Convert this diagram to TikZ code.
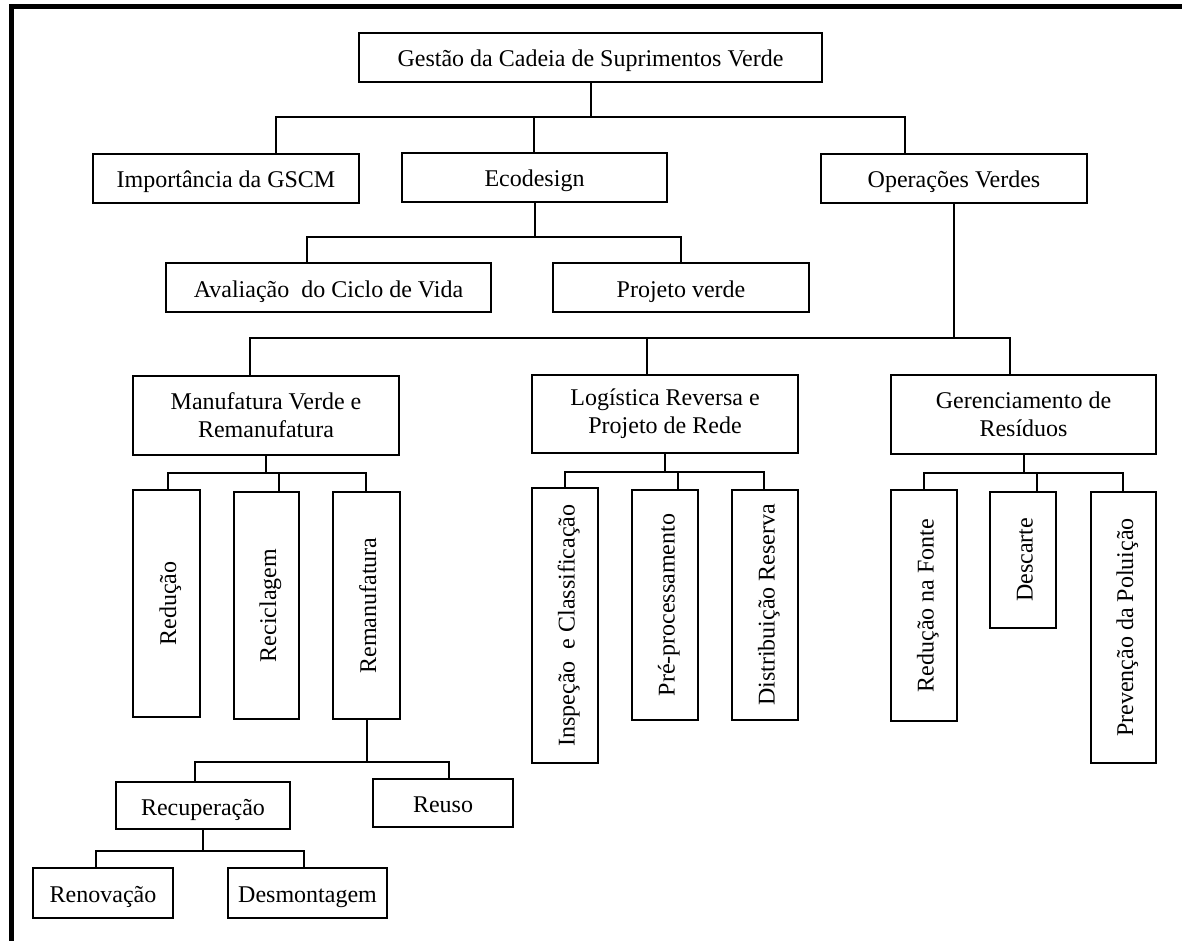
\documentclass[tikz,border=0pt]{standalone}
\usepackage{fontspec}
\usepackage{graphicx}
\setmainfont{Liberation Serif}
% upright text turned to read bottom-to-top inside a tall box
\newcommand\vtext[1]{\rotatebox{90}{\smash{#1}\rule{0pt}{19pt}}}
\begin{document}
\begin{tikzpicture}[x=1pt,y=-1pt,
  box/.style={draw,line width=2pt,inner sep=0pt,align=center,
    font=\fontsize{24}{28}\selectfont},
  one/.style={box,text height=19pt,text depth=0pt},
  link/.style={line width=2pt,line join=miter}]
\useasboundingbox (0,0) rectangle (1182,941);
% frame
\draw[line width=5pt] (11.5,941) -- (11.5,6.5) -- (1182,6.5);

% level 0/1
\node[one,minimum width=463,minimum height=49] (root) at (590.5,57.5) {Gestão da Cadeia de Suprimentos Verde};
\node[one,minimum width=266,minimum height=49] (imp) at (226,178.5) {Importância da GSCM};
\node[one,minimum width=265,minimum height=49] (eco) at (534.5,177.5) {Ecodesign};
\node[one,minimum width=266,minimum height=49] (ops) at (954,178.5) {Operações Verdes};
% ecodesign
\node[one,minimum width=325,minimum height=49] (ava) at (328.5,287.5) {Avaliação~ do Ciclo de Vida};
\node[one,minimum width=256,minimum height=49] (pv) at (681,287.5) {Projeto verde};
% green operations
\node[box,minimum width=266,minimum height=79] (man) at (266,415.5) {Manufatura Verde e\\Remanufatura};
\node[box,minimum width=266,minimum height=78] (log) at (665,414) {Logística Reversa e\\Projeto de Rede};
\node[box,minimum width=265,minimum height=79] (ger) at (1023.5,414.5) {Gerenciamento de\\Resíduos};
% manufacturing
\node[box,minimum height=227,minimum width=67] (red) at (166.5,603.5) {\vtext{Redução}};
\node[box,minimum height=227,minimum width=65] (rec) at (266.5,605.5) {\vtext{Reciclagem}};
\node[box,minimum height=227,minimum width=67] (rem) at (366.5,605.5) {\vtext{Remanufatura}};
% reverse logistics
\node[box,minimum height=275,minimum width=66] (insp) at (565,625.5) {\vtext{Inspeção~ e Classificação}};
\node[box,minimum height=230,minimum width=66] (pre) at (665,605) {\vtext{Pré-processamento}};
\node[box,minimum height=230,minimum width=66] (dist) at (765,605) {\vtext{Distribuição Reserva}};
% waste management
\node[box,minimum height=231,minimum width=66] (rnf) at (924,605.5) {\vtext{Redução na Fonte}};
\node[box,minimum height=136,minimum width=66] (desc) at (1023,560) {\vtext{Descarte}};
\node[box,minimum height=271,minimum width=65] (prev) at (1123.5,627.5) {\vtext{Prevenção da Poluição}};
% remanufacturing
\node[one,minimum width=174,minimum height=47] (recu) at (203,805.5) {Recuperação};
\node[one,minimum width=140,minimum height=48] (reuso) at (443,803) {Reuso};
\node[one,minimum width=140,minimum height=50] (renov) at (103,893) {Renovação};
\node[one,minimum width=159,minimum height=50] (desm) at (307.5,893) {Desmontagem};

% connectors: parent, bar level, children with the x of their stems
\newcommand\branch[3]{%
  \coordinate (j-#1) at (#1.south |- 0,#2);
  \draw[link] (#1.south) -- (j-#1);
  \foreach \c/\sx in {#3} {
    \draw[link] (j-#1) -| (\c.north -| \sx,0);
  }%
}
\branch{root}{117}{imp/276,eco/534,ops/905}
\branch{eco}{237}{ava/307,pv/681}
\branch{ops}{338}{man/250,log/647,ger/1010}
\branch{man}{473}{red/168,rec/279,rem/366}
\branch{log}{472}{insp/565,pre/678,dist/764}
\branch{ger}{473}{rnf/924,desc/1037,prev/1123}
\branch{rem}{762}{recu/195,reuso/449}
\branch{recu}{851}{renov/96,desm/304}
\end{tikzpicture}
\end{document}
